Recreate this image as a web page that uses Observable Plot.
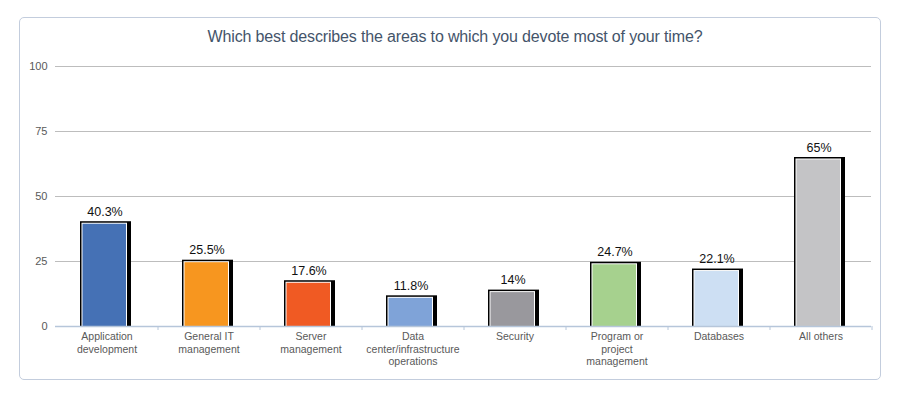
<!DOCTYPE html>
<html>
<head>
<meta charset="utf-8">
<script src="https://cdn.jsdelivr.net/npm/d3@7"></script>
<script src="https://cdn.jsdelivr.net/npm/@observablehq/plot@0.6"></script>
<style>
  html, body { margin: 0; padding: 0; background: #fff; }
  #wrap { position: relative; width: 914px; height: 398px; overflow: hidden; font-family: "Liberation Sans", Arial, sans-serif; }
  #card { position: absolute; left: 19px; top: 17px; width: 862px; height: 363px; border: 1px solid #c3cddd; border-radius: 5px; box-sizing: border-box; }
  #title { position: absolute; left: 19px; width: 872px; top: 28px; text-align: center; font-size: 16px; color: #44546a; letter-spacing: -0.15px; }
  #chart { position: absolute; left: 0; top: 0; }
</style>
</head>
<body>
<div id="wrap">
  <div id="card"></div>
  <div id="title">Which best describes the areas to which you devote most of your time?</div>
  <div id="chart"></div>
</div>
<script>
const categories = ["Application development", "General IT management", "Server management", "Data center/infrastructure operations", "Security", "Program or project management", "Databases", "All others"];
const tickLabels = ["Application\ndevelopment", "General IT\nmanagement", "Server\nmanagement", "Data\ncenter/infrastructure\noperations", "Security", "Program or\nproject\nmanagement", "Databases", "All others"];
const values = [40.3, 25.5, 17.6, 11.8, 14, 24.7, 22.1, 65];
const valueLabels = ["40.3%", "25.5%", "17.6%", "11.8%", "14%", "24.7%", "22.1%", "65%"];
const colors = ["#4571b5", "#f7961f", "#f05a23", "#7fa3d8", "#99989d", "#a6d18e", "#cddff3", "#c4c4c6"];
const yTicks = [0, 25, 50, 75, 100];

const data = categories.map((c, i) => ({category: c, value: values[i], label: valueLabels[i], color: colors[i]}));
const labelOf = new Map(categories.map((c, i) => [c, tickLabels[i]]));

const W = 914, H = 398, mL = 55, mR = 43, mT = 66, mB = 72;
const step = (W - mL - mR) / categories.length;

const chart = Plot.plot({
  width: W,
  height: H,
  marginLeft: mL,
  marginRight: mR,
  marginTop: mT,
  marginBottom: mB,
  style: {fontFamily: "'Liberation Sans', Arial, sans-serif", background: "transparent"},
  x: {domain: categories, paddingInner: 0.5, paddingOuter: 0.25, align: 0.5},
  y: {domain: [0, 100]},
  marks: [
    Plot.gridY(yTicks.filter(d => d > 0), {stroke: "#bdbdbd", strokeOpacity: 1, strokeWidth: 1}),
    Plot.axisY({ticks: yTicks, tickSize: 0, tickPadding: 8, fontSize: 11, color: "#595959", label: null}),
    Plot.barY(data, {x: "category", y: "value", fill: "#000", dx: -1}),
    Plot.barY(data, {x: "category", y: "value", fill: "#fff", dx: -1, insetLeft: 1.5, insetTop: 1.5, insetRight: 4, insetBottom: 0}),
    Plot.barY(data, {x: "category", y: "value", fill: "color", dx: -1, insetLeft: 2.5, insetTop: 2.5, insetRight: 5, insetBottom: 0}),
    Plot.text(data, {x: "category", y: "value", text: "label", dy: -10, dx: -2, fontSize: 12.5, fill: "#111", lineAnchor: "middle"}),
    Plot.ruleY([0], {stroke: "#b6c6da", strokeWidth: 1.3}),
    Plot.axisX({tickSize: 4, stroke: "#b6c6da", text: null, dx: step / 2, label: null}),
    Plot.axisX({tickSize: 0, tickPadding: 5, fontSize: 10.5, color: "#595959", lineHeight: 1.17, tickFormat: d => labelOf.get(d), label: null})
  ]
});
document.getElementById("chart").appendChild(chart);
</script>
</body>
</html>
